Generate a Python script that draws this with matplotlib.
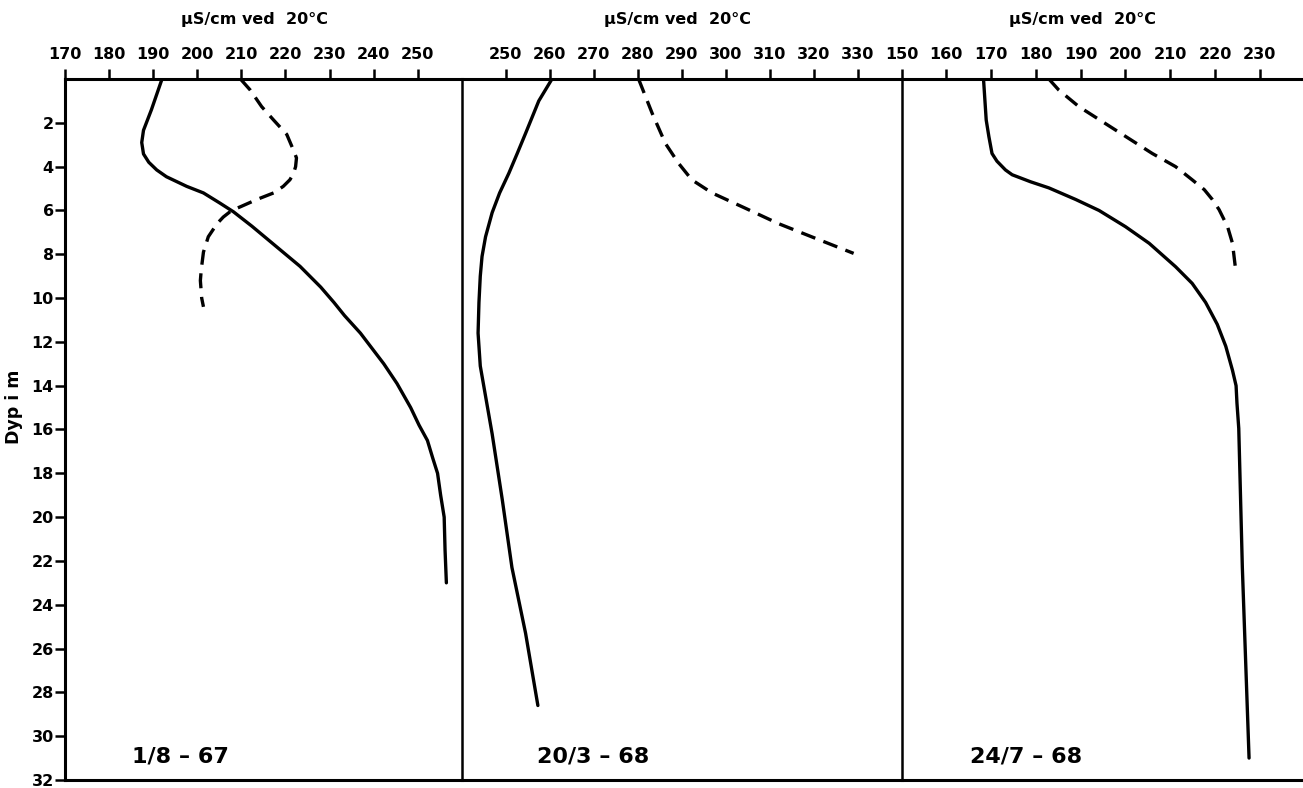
import matplotlib
matplotlib.use('Agg')
import matplotlib.pyplot as plt
import matplotlib.transforms as mtransforms

# Ledningsevne mot dyp, tre tokt (heltrukken og stiplet kurve)
depth_1 = [0, 1.4, 2.34, 2.9, 3.42, 3.8, 4.15, 4.46, 4.9, 5.2, 5.66, 6.06, 6.72, 7.66, 8.55,
           9.5, 10.2, 10.8, 11.6, 13.0, 13.9, 15.0, 15.8, 16.5, 17.3, 18.0, 19.0, 20.0, 21.5, 23.0]
solid_1 = [192.0, 189.6, 187.8, 187.4, 187.8, 189.0, 190.8, 193.0, 197.6, 201.4, 205.1, 208.2, 212.4, 218.0, 223.3,
           228.0, 231.0, 233.4, 237.0, 242.3, 245.3, 248.4, 250.3, 252.2, 253.4, 254.5, 255.2, 256.0, 256.2, 256.5]
ddepth_1 = [0, 0.5, 1.26, 1.87, 2.53, 3.24, 3.6, 4.0, 4.33, 4.6, 4.9, 5.2, 5.5, 5.83, 6.0, 6.3,
            6.6, 7.2, 7.9, 8.7, 9.2, 10.0, 10.4]
dashed_1 = [209.8, 212.0, 214.6, 217.3, 220.3, 221.8, 222.5, 222.3, 221.8, 221.0, 219.5, 217.3, 213.5, 209.8, 207.8, 205.9,
            204.5, 202.5, 201.4, 200.9, 200.7, 201.0, 201.4]

depth_2 = [0, 1.0, 2.48, 3.4, 4.3, 5.2, 6.1, 7.2, 8.1, 9.0, 10.2, 11.6, 13.1, 16.2, 19.2, 22.3, 25.3, 28.6]
solid_2 = [260.5, 257.5, 254.5, 252.6, 250.7, 248.6, 246.9, 245.4, 244.6, 244.2, 243.9, 243.7, 244.2, 246.9, 249.2,
           251.4, 254.5, 257.3]
ddepth_2 = [0, 1.57, 2.94, 3.85, 4.6, 5.2, 5.9, 6.6, 7.27, 7.96]
dashed_2 = [280.2, 283.3, 286.3, 289.3, 292.3, 296.9, 304.5, 312.0, 320.4, 329.1]

depth_3 = [0, 1.87, 2.63, 3.4, 3.75, 4.15, 4.37, 4.69, 4.97, 5.5, 6.0, 6.74, 7.5, 8.57, 9.33,
           10.2, 11.2, 12.2, 13.3, 14.0, 14.8, 15.95, 22.3, 31.0]
solid_3 = [168.3, 168.9, 169.5, 170.2, 171.3, 173.2, 174.7, 178.8, 182.9, 188.9, 194.1, 200.0, 205.3, 211.2, 214.9,
           217.9, 220.5, 222.4, 223.9, 224.7, 224.9, 225.3, 226.1, 227.6]
ddepth_3 = [0, 0.5, 1.26, 2.33, 3.4, 4.0, 4.6, 5.05, 5.5, 5.96, 6.74, 7.5, 8.87]
dashed_3 = [182.9, 185.1, 189.6, 197.8, 206.0, 211.2, 214.9, 217.6, 219.4, 220.9, 222.8, 223.9, 224.7]

dates = ['1/8 – 67', '20/3 – 68', '24/7 – 68']
xlims = [(170, 260), (240, 340), (150, 239.5)]
xticks = [list(range(170, 251, 10)), list(range(250, 331, 10)), list(range(150, 231, 10))]
title_x = [213, 289, 190.5]
yticks = list(range(2, 33, 2))

plt.rcParams['font.family'] = ['DejaVu Sans']

fig = plt.figure(figsize=(13.03, 7.88), dpi=100)
gs = fig.add_gridspec(1, 3, left=0.0499, right=0.9995, top=0.8997, bottom=0.0102,
                      wspace=0, width_ratios=[397, 440, 401])
axes = [fig.add_subplot(gs[0, i]) for i in range(3)]

solids = [(depth_1, solid_1), (depth_2, solid_2), (depth_3, solid_3)]
dasheds = [(ddepth_1, dashed_1), (ddepth_2, dashed_2), (ddepth_3, dashed_3)]

for i, ax in enumerate(axes):
    d, v = solids[i]
    ax.plot(v, d, color='black', lw=2.4, solid_capstyle='round', solid_joinstyle='round')
    d, v = dasheds[i]
    ax.plot(v, d, color='black', lw=2.4, dashes=(4.5, 2.6), dash_capstyle='butt',
            dash_joinstyle='round')

    ax.set_xlim(*xlims[i])
    ax.set_ylim(32, 0)
    ax.set_xticks(xticks[i])
    ax.set_xticklabels([str(t) for t in xticks[i]], fontsize=11.5, fontweight='bold')
    ax.tick_params(axis='x', top=True, bottom=False, labeltop=True, labelbottom=False,
                   direction='out', length=7, width=1.8, pad=5)

    for s in ['top', 'bottom']:
        ax.spines[s].set_linewidth(2.2)
    ax.spines['left'].set_linewidth(1.8)
    ax.spines['right'].set_visible(False)

    trans = mtransforms.blended_transform_factory(ax.transData, ax.transAxes)
    ax.text(title_x[i], 1.085, 'µS/cm ved  20°C', transform=trans, ha='center', va='center',
            fontsize=11.5, fontweight='bold')
    ax.text(0.17, 0.034, dates[i], transform=ax.transAxes, ha='left', va='center',
            fontsize=16, fontweight='bold')

    if i == 0:
        ax.set_yticks(yticks)
        ax.set_yticklabels([str(t) for t in yticks], fontsize=11.5, fontweight='bold')
        ax.tick_params(axis='y', left=True, direction='out', length=7, width=1.8, pad=1)
        ax.set_ylabel('Dyp i m', fontsize=12.5, fontweight='bold')
        ax.yaxis.set_label_coords(-0.105, 0.532)
        ax.spines['left'].set_linewidth(2.2)
    else:
        ax.set_yticks([])

fig.savefig('out.png', dpi=100, facecolor='white')
